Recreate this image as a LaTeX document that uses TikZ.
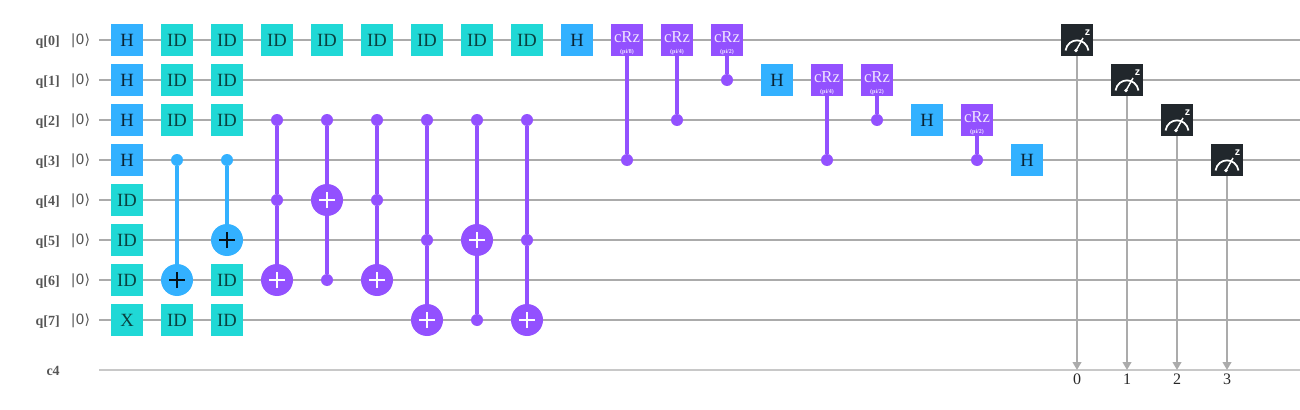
\documentclass[tikz,border=0pt]{standalone}
\usepackage{fontspec}
\setmainfont{Liberation Serif}
\newfontfamily\ketfont{DejaVu Sans}
\newfontfamily\measfont{Liberation Sans}
\usetikzlibrary{arrows.meta}
\definecolor{mwire}{HTML}{ABABAB}
\definecolor{mclas}{HTML}{C8C8C8}
\definecolor{mblue}{HTML}{33B1FF}
\definecolor{mteal}{HTML}{20D8D6}
\definecolor{mpurple}{HTML}{9351FF}
\definecolor{mdark}{HTML}{21272C}
\definecolor{mlabel}{HTML}{565656}
\tikzset{
  gate/.style = {rectangle, inner sep = 0, minimum size = 24pt, font = \fontsize{14pt}{15pt}\selectfont},
  hgate/.style = {gate, fill = mblue, text = mblue!20!black},
  idgate/.style = {gate, fill = mteal, text = mteal!30!black},
  crz/.style = {gate, fill = mpurple, text = white!85!mpurple, align = center, font = \fontsize{12.5pt}{10pt}\selectfont},
  meas/.style = {gate, fill = mdark},
  wire/.style = {mwire, line width = 1.5pt},
  lab/.style = {anchor = east, inner sep = 0, text = mlabel, font = \fontsize{10.5pt}{12pt}\selectfont\bfseries},
  ket/.style = {inner sep = 0, text = mlabel, font = \fontsize{10.5pt}{12pt}\ketfont},
  bdot/.style = {circle, inner sep = 0, minimum size = 9pt, fill = mblue},
  pdot/.style = {circle, inner sep = 0, minimum size = 9pt, fill = mpurple},
  btarget/.style = {circle, inner sep = 0, minimum size = 24pt, fill = mblue, path picture = {
    \draw [mblue!10!black, line width = 1.5pt] (path picture bounding box.center) +(-6pt, 0) -- +(6pt, 0) +(0, -6pt) -- +(0, 6pt);}},
  ptarget/.style = {circle, inner sep = 0, minimum size = 24pt, fill = mpurple, path picture = {
    \draw [white, line width = 1.5pt] (path picture bounding box.center) +(-6pt, 0) -- +(6pt, 0) +(0, -6pt) -- +(0, 6pt);}},
  bline/.style = {mblue, line width = 3pt},
  pline/.style = {mpurple, line width = 3pt},
  mline/.style = {mwire, line width = 1.5pt, -{Triangle[width = 6.5pt, length = 6pt]}},
}

\begin{document}
\begin{tikzpicture}[x = 0.75pt, y = -0.75pt]
    \useasboundingbox (0, 0) rectangle (1300, 410);

    % wires
    \foreach \r in {0, ..., 7} {
      \node [lab] (q\r) at (60, {42 + 40*\r}) {q[\r]};
      \node [ket] (k\r) at (80.5, {41 + 40*\r}) {|0⟩};
      \coordinate (ws\r) at (99, {40 + 40*\r});
      \coordinate (we\r) at (1300, {40 + 40*\r});
      \draw [wire] (ws\r) -- (we\r);
    }
    \node [lab] (c4) at (60, 371) {c4};
    \coordinate (cs) at (99, 370);
    \coordinate (ce) at (1300, 370);
    \draw [mclas, line width = 1.5pt] (cs) -- (ce);

    % gates, column/row
    \foreach \c/\r in {0/0, 0/1, 0/2, 0/3, 9/0, 13/1, 16/2, 18/3}
      \node [hgate] (g\c-\r) at ({127 + 50*\c}, {40 + 40*\r}) {H};
    \foreach \c/\r in {0/4, 0/5, 0/6, 1/0, 1/1, 1/2, 1/7, 2/0, 2/1, 2/2, 2/6, 2/7,
                       3/0, 4/0, 5/0, 6/0, 7/0, 8/0}
      \node [idgate] (g\c-\r) at ({127 + 50*\c}, {40 + 40*\r}) {ID};
    \node [idgate] (g0-7) at (127, 320) {X};

    % controlled gates in blue
    \foreach \c/\a/\b in {1/3/6, 2/3/5} {
      \node [bdot] (d\c) at ({127 + 50*\c}, {40 + 40*\a}) {};
      \node [btarget] (t\c) at ({127 + 50*\c}, {40 + 40*\b}) {};
      \draw [bline] (d\c) -- (t\c);
    }

    % controlled gates in purple
    \foreach \c/\m/\b in {3/4/6, 5/4/6, 6/5/7, 8/5/7} {
      \node [pdot] (d\c) at ({127 + 50*\c}, 120) {};
      \node [pdot] (m\c) at ({127 + 50*\c}, {40 + 40*\m}) {};
      \node [ptarget] (t\c) at ({127 + 50*\c}, {40 + 40*\b}) {};
      \draw [pline] (d\c) -- (m\c) -- (t\c);
    }
    \foreach \c/\m/\b in {4/4/6, 7/5/7} {
      \node [pdot] (d\c) at ({127 + 50*\c}, 120) {};
      \node [ptarget] (t\c) at ({127 + 50*\c}, {40 + 40*\m}) {};
      \node [pdot] (m\c) at ({127 + 50*\c}, {40 + 40*\b}) {};
      \draw [pline] (d\c) -- (t\c) -- (m\c);
    }

    % cRz
    \foreach \c/\r/\a/\p in {10/0/3/8, 11/0/2/4, 12/0/1/2, 14/1/3/4, 15/1/2/2, 17/2/3/2} {
      \node [crz] (g\c-\r) at ({127 + 50*\c}, {40 + 40*\r}) {\rule{0pt}{13pt}cRz\\[-2pt]{\fontsize{4.5pt}{5pt}\selectfont\bfseries (pi/\p)}};
      \node [pdot] (d\c) at ({127 + 50*\c}, {40 + 40*\a}) {};
      \draw [pline] (g\c-\r) -- (d\c);
    }

    % measurements
    \foreach \r/\c in {0/19, 1/20, 2/21, 3/22} {
      \node [meas] (m\r) at ({127 + 50*\c}, {40 + 40*\r}) {};
      \node [text = white, inner sep = 0, font = \fontsize{8pt}{8pt}\measfont\bfseries] (z\r) at ({137.5 + 50*\c}, {33 + 40*\r}) {z};
      \draw [white, line width = 1.3pt] (m\r.center) +(-11.5, 10.5) .. controls +(2.5, -13.5) and +(-2.5, -13.5) .. +(11.5, 10.5);
      \draw [white, line width = 1.1pt] (m\r.center) +(-1, 10.5) -- +(6, -2);
      \fill [white] (m\r.center) +(-1, 10.5) circle [radius = 1.4pt];
      \coordinate (c\r) at ({127 + 50*\c}, 370);
      \draw [mline] (m\r) -- (c\r);
      \node [font = \fontsize{12pt}{14pt}\selectfont, text = black!85] (b\r) at ({127 + 50*\c}, 379) {\r};
    }
\end{tikzpicture}
\end{document}
